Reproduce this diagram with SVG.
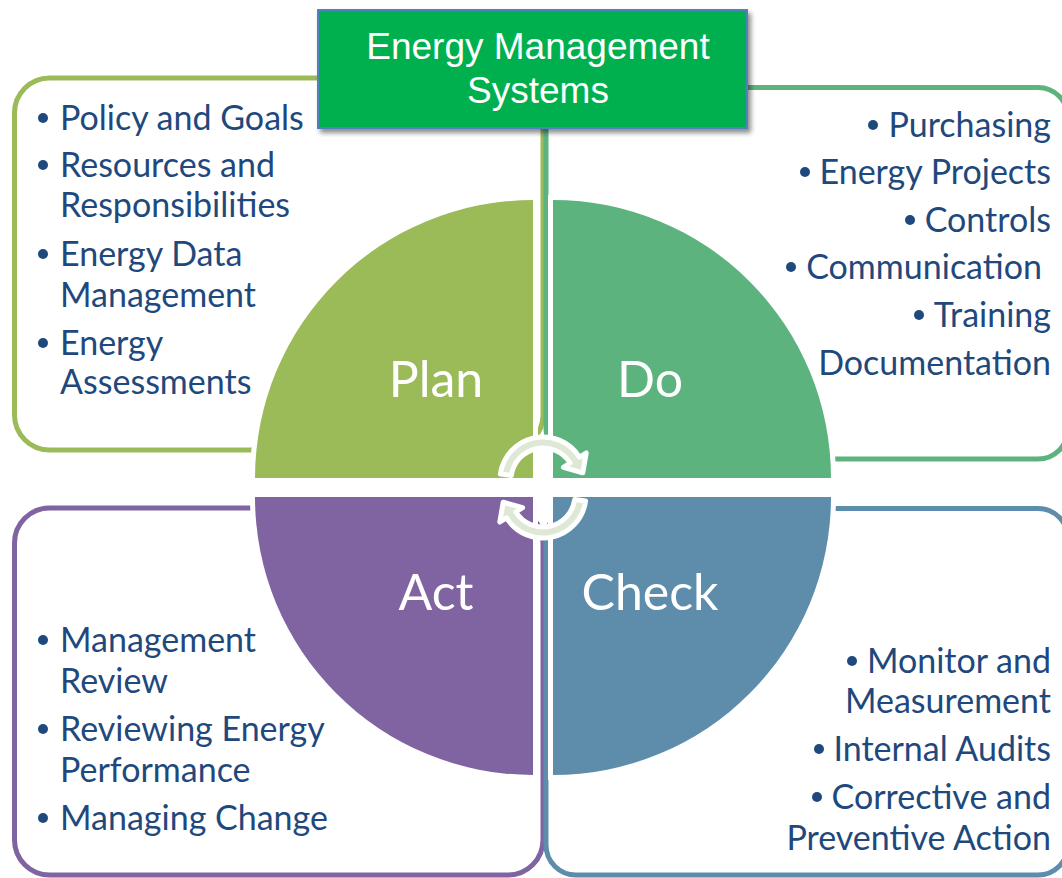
<svg xmlns="http://www.w3.org/2000/svg" width="1062" height="878" viewBox="0 0 1062 878">
  <style>
    .frame { fill: none; stroke-width: 5; }
    .quad { stroke: #ffffff; stroke-width: 10; paint-order: stroke fill; stroke-linejoin: miter; }
    .item { font-family: Lato, "Liberation Sans", sans-serif; font-size: 34px; fill: #1F497D; }
    .dot { fill: #1F497D; }
    .phase { font-family: Lato, "Liberation Sans", sans-serif; font-size: 50px; fill: #ffffff; }
    .title { font-family: "Liberation Sans", Arial, sans-serif; font-size: 37px; fill: #ffffff; text-anchor: middle; }
    .cycle { fill: #DEE8D5; stroke: #ffffff; stroke-width: 5; stroke-linejoin: round; }
  </style>
  <defs>
    <filter id="shadow" x="-10%" y="-10%" width="125%" height="135%">
      <feGaussianBlur in="SourceAlpha" stdDeviation="2.5"/>
      <feOffset dx="3" dy="4" result="blur"/>
      <feComponentTransfer><feFuncA type="linear" slope="0.45"/></feComponentTransfer>
      <feMerge><feMergeNode/><feMergeNode in="SourceGraphic"/></feMerge>
    </filter>
  </defs>

  <rect width="1062" height="878" fill="#ffffff"/>

  <!-- outlined panels behind the four phases -->
  <g id="frames">
    <rect class="frame" x="14.5" y="78" width="528.5" height="372" rx="35" stroke="#9BBB59"/>
    <rect class="frame" x="546" y="87.5" width="522" height="371.5" rx="30" stroke="#5DB37E"/>
    <rect class="frame" x="14.5" y="508" width="528.5" height="367" rx="35" stroke="#8064A2"/>
    <rect class="frame" x="546" y="508.5" width="522" height="366.5" rx="30" stroke="#5E8DAC"/>
  </g>

  <!-- PDCA quadrants -->
  <g id="plan">
    <path class="quad" d="M533,478 L255,478 A278,278 0 0 1 533,200 Z" fill="#9BBB59"/>
    <text class="phase" x="436" y="397" text-anchor="middle">Plan</text>
  </g>
  <g id="do">
    <path class="quad" d="M553,478 L553,200 A278,278 0 0 1 831,478 Z" fill="#5DB37E"/>
    <text class="phase" x="650" y="397" text-anchor="middle">Do</text>
  </g>
  <g id="act">
    <path class="quad" d="M533,497 L533,775 A278,278 0 0 1 255,497 Z" fill="#8064A2"/>
    <text class="phase" x="436" y="610" text-anchor="middle">Act</text>
  </g>
  <g id="check">
    <path class="quad" d="M553,497 L831,497 A278,278 0 0 1 553,775 Z" fill="#5E8DAC"/>
    <text class="phase" x="650" y="610" text-anchor="middle">Check</text>
  </g>

  <!-- cycle arrows in the middle -->
  <g id="connectors">
    <path class="cycle" d="M500.4,474 A43,43 0 0 1 579.5,457.2 L586.2,453 L582.8,472.8 L563.4,467.3 L570.1,463 A32,32 0 0 0 511.3,475.5 Z"/>
    <path class="cycle" transform="rotate(180 543 487.5)" d="M500.4,474 A43,43 0 0 1 579.5,457.2 L586.2,453 L582.8,472.8 L563.4,467.3 L570.1,463 A32,32 0 0 0 511.3,475.5 Z"/>
  </g>

  <!-- title -->
  <g id="title">
    <rect x="318" y="10" width="429" height="118" fill="#00B050" stroke="#4F81BD" stroke-width="2" filter="url(#shadow)"/>
    <text class="title" x="538" y="59">Energy Management</text>
    <text class="title" x="538" y="103">Systems</text>
  </g>

  <!-- Plan items -->
  <g id="plan-items">
    <circle class="dot" cx="43" cy="118" r="5"/>
    <text class="item" x="60" y="130">Policy and Goals</text>
    <circle class="dot" cx="43" cy="165" r="5"/>
    <text class="item" x="60" y="177">Resources and</text>
    <text class="item" x="60" y="217">Responsibilities</text>
    <circle class="dot" cx="43" cy="254" r="5"/>
    <text class="item" x="60" y="266">Energy Data</text>
    <text class="item" x="60" y="307">Management</text>
    <circle class="dot" cx="43" cy="343" r="5"/>
    <text class="item" x="60" y="355">Energy</text>
    <text class="item" x="60" y="394">Assessments</text>
  </g>

  <!-- Do items -->
  <g id="do-items">
    <circle class="dot" cx="873" cy="125" r="5"/>
    <text class="item" x="1051" y="137" text-anchor="end">Purchasing</text>
    <circle class="dot" cx="805" cy="172" r="5"/>
    <text class="item" x="1051" y="184" text-anchor="end">Energy Projects</text>
    <circle class="dot" cx="910" cy="220" r="5"/>
    <text class="item" x="1051" y="232" text-anchor="end">Controls</text>
    <circle class="dot" cx="791" cy="267" r="5"/>
    <text class="item" x="1042" y="279" text-anchor="end">Communication</text>
    <circle class="dot" cx="919" cy="315" r="5"/>
    <text class="item" x="1051" y="327" text-anchor="end">Training</text>
    <text class="item" x="1051" y="375" text-anchor="end">Documentation</text>
  </g>

  <!-- Act items -->
  <g id="act-items">
    <circle class="dot" cx="43" cy="640" r="5"/>
    <text class="item" x="60" y="652">Management</text>
    <text class="item" x="60" y="693">Review</text>
    <circle class="dot" cx="43" cy="729" r="5"/>
    <text class="item" x="60" y="741">Reviewing Energy</text>
    <text class="item" x="60" y="782">Performance</text>
    <circle class="dot" cx="43" cy="818" r="5"/>
    <text class="item" x="60" y="830">Managing Change</text>
  </g>

  <!-- Check items -->
  <g id="check-items">
    <circle class="dot" cx="852" cy="661" r="5"/>
    <text class="item" x="1051" y="673" text-anchor="end">Monitor and</text>
    <text class="item" x="1051" y="713" text-anchor="end">Measurement</text>
    <circle class="dot" cx="819" cy="749" r="5"/>
    <text class="item" x="1051" y="761" text-anchor="end">Internal Audits</text>
    <circle class="dot" cx="817" cy="797" r="5"/>
    <text class="item" x="1051" y="809" text-anchor="end">Corrective and</text>
    <text class="item" x="1051" y="850" text-anchor="end">Preventive Action</text>
  </g>
</svg>
